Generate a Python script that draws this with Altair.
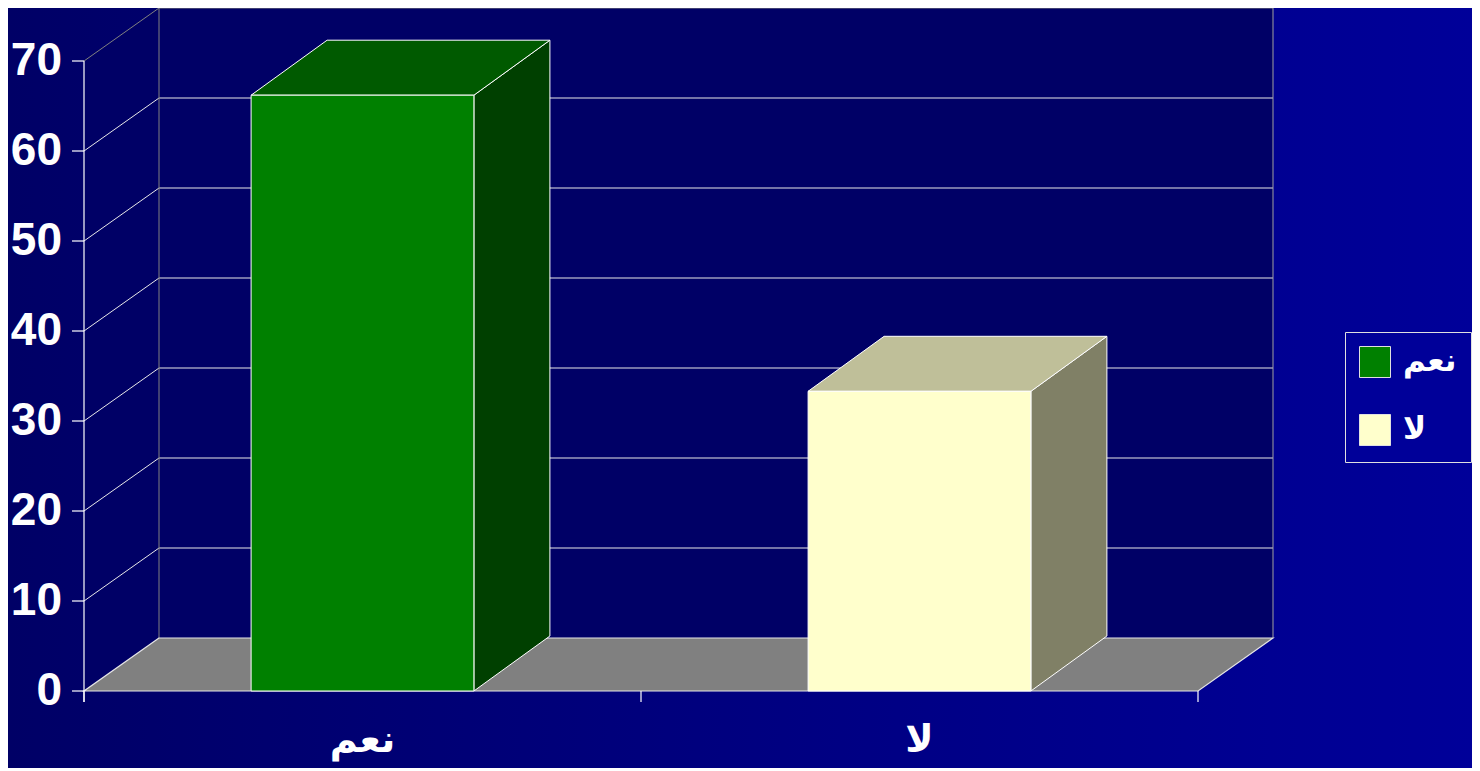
import altair as alt
import pandas as pd

# ---------------- data ----------------
categories = ["نعم", "لا"]
values = [66.2, 33.3]
front_colors = ["#008000", "#ffffcc"]
top_colors = ["#005a00", "#bfbf99"]
side_colors = ["#004000", "#808066"]
y_ticks = [0, 10, 20, 30, 40, 50, 60, 70]
y_max = 70

# ---------------- layout (pixels -> data units) ----------------
W, H = 1464, 760
PX_X = 557.0          # px per category
PX_Y = 9.0            # px per value unit
X0 = 76.0             # chart px of category 0 (left of front)
Y0 = 683.0            # chart px of value 0 (front)
DX = 75 / PX_X        # wall depth
DY = 53 / PX_Y
BDX = 76 / PX_X       # bar depth
BDY = 55 / PX_Y
HALF = 0.2            # half bar width (category units)
TICK_X = 12 / PX_X
TICK_Y = 11 / PX_Y
n = len(categories)

x_dom = [-X0 / PX_X, (W - X0) / PX_X]
y_dom = [(Y0 - H) / PX_Y, Y0 / PX_Y]
xs = alt.Scale(domain=x_dom, nice=False, zero=False)
ys = alt.Scale(domain=y_dom, nice=False, zero=False)


def X(f, **k):
    return alt.X(f, type="quantitative", scale=xs, axis=None, **k)


def Y(f, **k):
    return alt.Y(f, type="quantitative", scale=ys, axis=None, stack=False, **k)


bg = pd.DataFrame({"x": [x_dom[0]], "x2": [x_dom[1]], "y": [y_dom[0]], "y2": [y_dom[1]]})
# side wall
side_wall = pd.DataFrame({"x": [0, DX], "y": [y_max, y_max + DY], "y2": [0, DY]})
# back wall
back_wall = pd.DataFrame({"x": [DX], "x2": [n + DX], "y": [DY], "y2": [y_max + DY]})
# gridlines
grid_rows = []
for v in y_ticks[1:]:
    col = "#808080" if v == y_max else "#e8e8e8"
    grid_rows.append({"x": DX, "x2": n + DX, "y": v + DY, "y2": v + DY, "c": col})
    grid_rows.append({"x": 0, "x2": DX, "y": v, "y2": v + DY, "c": col})
grid_rows.append({"x": DX, "x2": DX, "y": DY, "y2": y_max + DY, "c": "#808080"})
grid_rows.append({"x": n + DX, "x2": n + DX, "y": DY, "y2": y_max + DY, "c": "#a0a0a0"})
grid = pd.DataFrame(grid_rows)

floor = pd.DataFrame({"y": [0, DY], "x": [0, DX], "x2": [n, n + DX]})

front = pd.DataFrame({
    "cat": categories,
    "x": [i + 0.5 - HALF for i in range(n)],
    "x2": [i + 0.5 + HALF for i in range(n)],
    "y": [0] * n,
    "y2": values,
})
side_rows, top_rows = [], []
for i, (c, v) in enumerate(zip(categories, values)):
    xr = i + 0.5 + HALF
    xl = i + 0.5 - HALF
    side_rows += [{"cat": c, "x": xr, "y": v, "y2": 0, "f": side_colors[i]},
                  {"cat": c, "x": xr + BDX, "y": v + BDY, "y2": BDY, "f": side_colors[i]}]
    top_rows += [{"cat": c, "y": v, "x": xl, "x2": xr, "f": top_colors[i]},
                 {"cat": c, "y": v + BDY, "x": xl + BDX, "x2": xr + BDX, "f": top_colors[i]}]
sides = pd.DataFrame(side_rows)
tops = pd.DataFrame(top_rows)

axis_rows = [{"x": 0, "x2": 0, "y": -TICK_Y, "y2": y_max}]
for v in y_ticks:
    axis_rows.append({"x": -TICK_X, "x2": 0, "y": v, "y2": v})
for i in range(n + 1):
    axis_rows.append({"x": i, "x2": i, "y": -TICK_Y, "y2": 0})
axis_lines = pd.DataFrame(axis_rows)

ylab = pd.DataFrame({"v": y_ticks, "x": [0] * len(y_ticks), "t": [str(v) for v in y_ticks]})
xlab = pd.DataFrame({"cat": categories, "x": [i + 0.5 for i in range(n)], "y": [0] * n})

# ---------------- layers ----------------
grad = alt.LinearGradient(gradient="linear", x1=0, y1=0, x2=1, y2=0,
                          stops=[alt.GradientStop(offset=0, color="#000066"),
                                 alt.GradientStop(offset=1, color="#000099")])
l_bg = alt.Chart(bg).mark_rect(color=grad).encode(x=X("x"), x2="x2", y=Y("y"), y2="y2")
l_side_wall = alt.Chart(side_wall).mark_area(orient="vertical", color="#000066").encode(
    x=X("x"), y=Y("y"), y2="y2")
l_back = alt.Chart(back_wall).mark_rect(color="#000066").encode(
    x=X("x"), x2="x2", y=Y("y"), y2="y2")
l_grid = alt.Chart(grid).mark_rule(strokeWidth=1).encode(
    x=X("x"), x2="x2", y=Y("y"), y2="y2", color=alt.Color("c:N", scale=None))
l_floor = alt.Chart(floor).mark_area(orient="horizontal", color="#808080",
                                     stroke="#e6e6e6", strokeWidth=1.2).encode(
    y=Y("y"), x=X("x"), x2="x2")
l_sides = alt.Chart(sides).mark_area(orient="vertical", stroke="#ffffff", strokeWidth=1).encode(
    x=X("x"), y=Y("y"), y2="y2", detail="cat:N", fill=alt.Fill("f:N", scale=None))
l_tops = alt.Chart(tops).mark_area(orient="horizontal", stroke="#ffffff", strokeWidth=1).encode(
    y=Y("y"), x=X("x"), x2="x2", detail="cat:N", fill=alt.Fill("f:N", scale=None))
l_front = alt.Chart(front).mark_rect(stroke="#ffffff", strokeWidth=1, opacity=1).encode(
    x=X("x"), x2="x2", y=Y("y"), y2="y2",
    color=alt.Color("cat:N", scale=alt.Scale(domain=categories, range=front_colors),
                    sort=categories,
                    legend=alt.Legend(title=None, orient="none", legendX=1337, legendY=324,
                                      fillColor="#000099", strokeColor="#e0e0e0",
                                      padding=14, symbolType="square", symbolSize=961,
                                      symbolStrokeColor="#e0e0e0", symbolStrokeWidth=1,
                                      symbolOpacity=1, labelColor="#ffffff",
                                      labelFont="DejaVu Sans", labelFontSize=31,
                                      labelFontWeight="bold", labelOffset=12,
                                      rowPadding=32)))
l_axis = alt.Chart(axis_lines).mark_rule(color="#ffffff", strokeWidth=1.2).encode(
    x=X("x"), x2="x2", y=Y("y"), y2="y2")
l_ylab = alt.Chart(ylab).mark_text(align="right", baseline="middle", dx=-22, fontSize=46,
                                   font="Liberation Sans", fontWeight="bold",
                                   color="#ffffff").encode(
    x=X("x"), y=Y("v"), text="t:N")
l_xlab = alt.Chart(xlab).mark_text(align="center", baseline="middle", dy=50, fontSize=38,
                                   font="DejaVu Sans", fontWeight="bold",
                                   color="#ffffff").encode(
    x=X("x"), y=Y("y"), text="cat:N")

chart = alt.layer(
    l_bg, l_side_wall, l_back, l_grid, l_floor, l_sides, l_tops, l_front, l_axis, l_ylab, l_xlab
).properties(
    width=W, height=H, padding=0, autosize=alt.AutoSizeParams(type="none"),
).configure_view(
    strokeWidth=0,
).configure(background="#000066")

chart.save("out.html", embed_options={"renderer": "svg", "actions": False})
